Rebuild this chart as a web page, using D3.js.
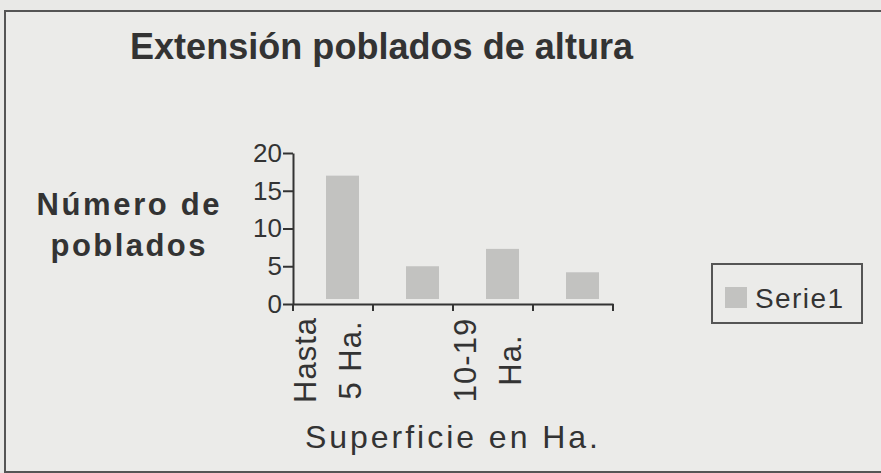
<!DOCTYPE html>
<meta charset="utf-8">
<script src="https://d3js.org/d3.v7.min.js"></script>
<style>
  body { margin: 0; background: #e9e9e7; }
  text { font-family: "Liberation Sans", Arial, sans-serif; fill: #333; }
</style>
<svg id="chart" width="881" height="473"></svg>
<script>

// data
var categories = ["Hasta 5 Ha.", "5-9 Ha.", "10-19 Ha.", "Más de 20 Ha."];
var values = [17, 5, 7.3, 4.2];
var shownLabels = [["Hasta", "5 Ha."], null, ["10-19", "Ha."], null];
var yTicks = [0, 5, 10, 15, 20];
var seriesName = "Serie1";

var svg = d3.select("#chart");

// outer frame of the scanned figure
svg.append("rect")
    .attr("x", 5).attr("y", 11)
    .attr("width", 900).attr("height", 461)
    .attr("fill", "#ebebe9")
    .attr("stroke", "#555").attr("stroke-width", 2);

// title
svg.append("text")
    .attr("x", 130).attr("y", 59)
    .attr("textLength", 503).attr("lengthAdjust", "spacing")
    .style("font-size", "36px").style("font-weight", "bold")
    .text("Extensión poblados de altura");

// y axis title (two lines)
var ytitle = svg.append("text")
    .attr("text-anchor", "middle")
    .style("font-size", "31px").style("font-weight", "bold");
ytitle.append("tspan").attr("x", 128).attr("y", 215)
    .attr("textLength", 183).attr("lengthAdjust", "spacing").text("Número de");
ytitle.append("tspan").attr("x", 128).attr("y", 256)
    .attr("textLength", 155).attr("lengthAdjust", "spacing").text("poblados");

// scales
var x = d3.scaleBand()
    .domain(categories)
    .range([293, 613]);

var y = d3.scaleLinear()
    .domain([0, 20])
    .range([304, 153]);

// y axis
var yAxis = svg.append("g")
    .attr("transform", "translate(293,0)")
    .call(d3.axisLeft(y).tickValues(yTicks).tickSize(10).tickSizeOuter(0));
yAxis.selectAll("path, line").attr("stroke", "#333").attr("stroke-width", 2);
yAxis.selectAll("text")
    .attr("x", -11)
    .style("font-size", "26px")
    .style("font-family", "Liberation Sans, Arial, sans-serif")
    .attr("fill", "#333");

// bars
svg.append("g")
  .selectAll("rect")
  .data(values)
  .enter()
  .append("rect")
    .attr("x", function(d, i){ return x(categories[i]) + x.bandwidth()/2 - 7 })
    .attr("width", 33)
    .attr("y", function(d){ return y(d) })
    .attr("height", function(d){ return y(0) - y(d) - 5 })
    .attr("fill", "#c2c2c0");

// x axis line and boundary ticks
var xAxis = svg.append("g")
    .attr("transform", "translate(0,304)")
    .call(d3.axisBottom(x).tickSize(0).tickFormat(""));
xAxis.select(".domain").attr("stroke", "#333").attr("stroke-width", 2);

var bounds = categories.map(function(c){ return x(c) }).concat([x.range()[1]]);
svg.append("g")
  .selectAll("line")
  .data(bounds)
  .enter()
  .append("line")
    .attr("x1", function(d){ return d }).attr("x2", function(d){ return d })
    .attr("y1", 304).attr("y2", 311)
    .attr("stroke", "#333").attr("stroke-width", 2);

// rotated category labels (only every other one is shown)
shownLabels.forEach(function(lines, i){
  if (!lines) return;
  var cx = x(categories[i]) + x.bandwidth()/2;
  lines.forEach(function(t, j){
    svg.append("text")
      .attr("transform", "translate(" + (cx - 17 + j*45) + ",360) rotate(-90)")
      .attr("text-anchor", "middle")
      .style("font-size", "31px")
      .style("letter-spacing", "1px")
      .text(t);
  });
});

// x axis title
svg.append("text")
    .attr("x", 305).attr("y", 448)
    .attr("textLength", 293).attr("lengthAdjust", "spacing")
    .style("font-size", "32px")
    .text("Superficie en Ha.");

// legend
svg.append("rect")
    .attr("x", 712).attr("y", 264)
    .attr("width", 150).attr("height", 59)
    .attr("fill", "none")
    .attr("stroke", "#555").attr("stroke-width", 2);
svg.append("rect")
    .attr("x", 725).attr("y", 287)
    .attr("width", 22).attr("height", 21)
    .attr("fill", "#c2c2c0");
svg.append("text")
    .attr("x", 755).attr("y", 308)
    .attr("textLength", 88).attr("lengthAdjust", "spacing")
    .style("font-size", "28px")
    .text(seriesName);

</script>
